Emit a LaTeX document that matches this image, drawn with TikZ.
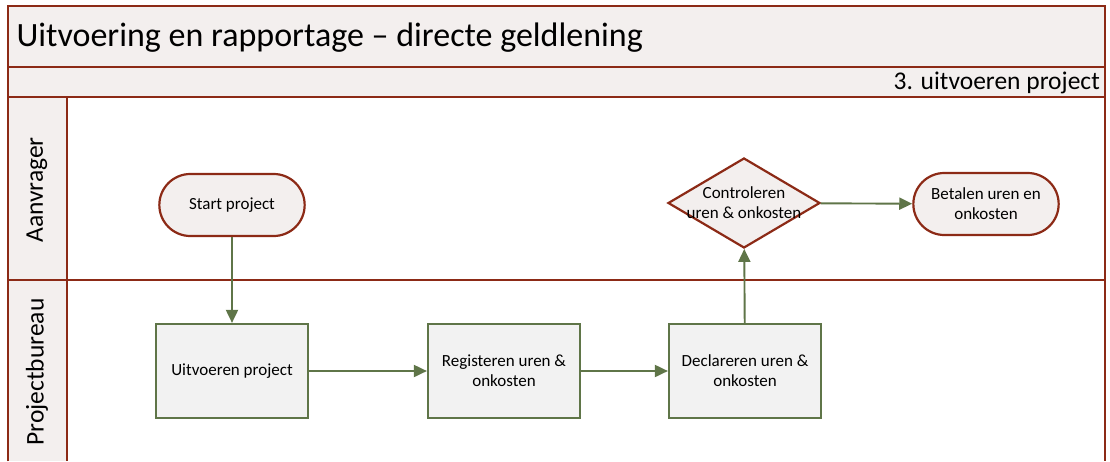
\documentclass[tikz,border=0pt]{standalone}
\usepackage{fontspec}
\setmainfont{Carlito}
\usetikzlibrary{shapes.geometric,shapes.misc,arrows.meta}

\definecolor{lanered}{RGB}{140,42,22}
\definecolor{flowgreen}{RGB}{95,117,72}
\definecolor{bandfill}{RGB}{243,239,238}
\definecolor{taskfill}{RGB}{242,242,242}

\tikzset{
  band/.style={draw=lanered, line width=2.4pt, fill=bandfill},
  terminal/.style={draw=lanered, line width=2.2pt, fill=bandfill, rounded rectangle,
    minimum width=152pt, minimum height=62pt, align=center, font=\fontsize{17}{20}\selectfont},
  task/.style={draw=flowgreen, line width=2.2pt, fill=taskfill, rectangle,
    minimum width=152pt, minimum height=94pt, align=center, font=\fontsize{17}{20}\selectfont},
  check/.style={draw=lanered, line width=2.2pt, fill=bandfill, diamond, aspect=1.7,
    minimum width=152pt, minimum height=90pt, inner xsep=-10pt, inner ysep=-4pt, align=center, font=\fontsize{17}{20}\selectfont},
  flow/.style={draw=flowgreen, line width=1.9pt, -{Triangle[length=13pt,width=12pt]}},
}

\begin{document}
\begin{tikzpicture}[x=1pt,y=-1pt]
  \useasboundingbox (0,0) rectangle (1110,461);

  % swimlane frame
  \draw[band] (8,6) rectangle (1105,67);
  \draw[band] (8,67) rectangle (1105,97);
  \draw[draw=lanered, line width=2.4pt] (8,461) -- (8,97) -- (1105,97) -- (1105,461);
  \draw[draw=lanered, line width=2.4pt] (8,280) -- (1105,280);
  \draw[band] (8,97) rectangle (67,280);
  \draw[draw=lanered, line width=2.4pt, fill=bandfill] (8,461) -- (8,280) -- (67,280) -- (67,461);

  \node[anchor=west, font=\fontsize{34}{38}\selectfont] (title) at (13,38) {Uitvoering en rapportage -- directe geldlening};
  \node[anchor=east, font=\fontsize{25.5}{28}\selectfont, inner sep=2pt] (phase) at (1102,83) {3. uitvoeren project};
  \node[rotate=90, font=\fontsize{25.5}{28}\selectfont] (lane1) at (37,190) {Aanvrager};
  \node[rotate=90, font=\fontsize{25.5}{28}\selectfont] (lane2) at (37,372) {Projectbureau};

  % steps
  \node[terminal] (start) at (232,205) {Start project};
  \node[task] (uitvoeren) at (232,371) {Uitvoeren project};
  \node[task] (registeren) at (504,371) {Registeren uren \&\\onkosten};
  \node[task] (declareren) at (745,371) {Declareren uren \&\\onkosten};
  \node[check] (controleren) at (744,203) {Controleren\\uren \& onkosten};
  \node[terminal] (betalen) at (986,204) {Betalen uren en\\onkosten};

  \draw[flow] (start) -- (uitvoeren);
  \draw[flow] (uitvoeren) -- (registeren);
  \draw[flow] (registeren) -- (declareren);
  \draw[flow] (declareren) -- (controleren);
  \draw[flow] (controleren) -- (betalen);
\end{tikzpicture}
\end{document}
